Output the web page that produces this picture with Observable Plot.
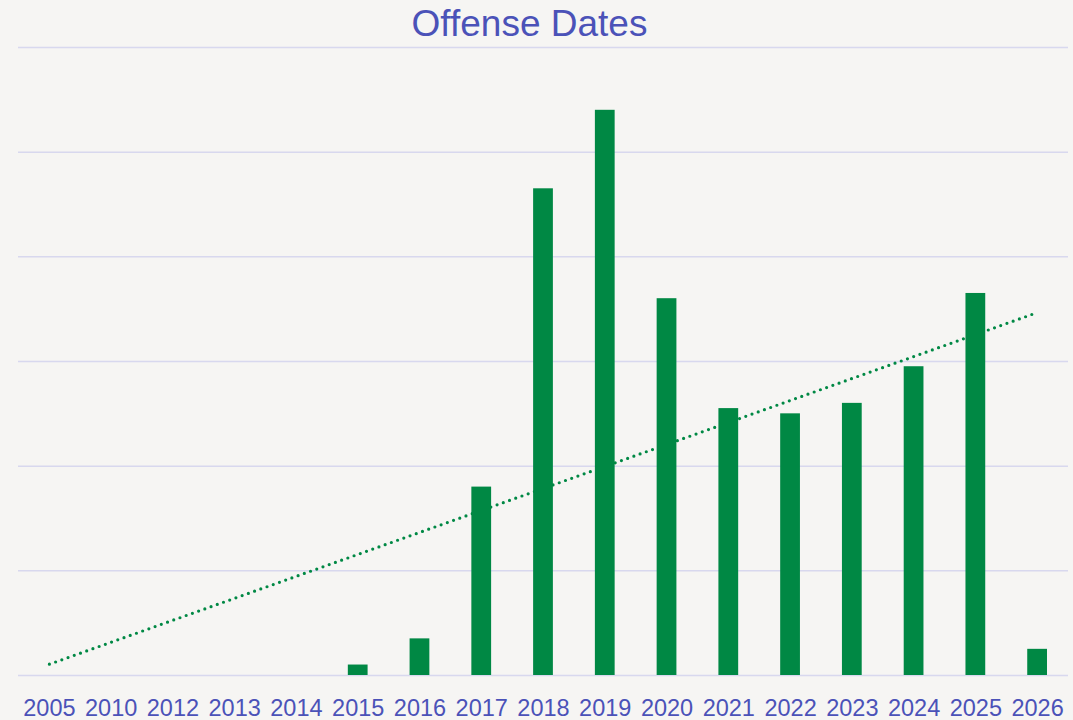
<!DOCTYPE html>
<html>
<head>
<meta charset="utf-8">
<script src="https://cdn.jsdelivr.net/npm/d3@7"></script>
<script src="https://cdn.jsdelivr.net/npm/@observablehq/plot@0.6"></script>
<style>
  html, body { margin: 0; padding: 0; background: #f6f5f3; }
  #wrap { width: 1073px; height: 720px; background: #f6f5f3; overflow: hidden; }
  #title { height: 40px; padding-top: 4px; box-sizing: border-box; line-height: 40px; text-align: center;
    font-family: "Liberation Sans", Arial, sans-serif; font-size: 37px; color: #4b52b8; padding-right: 14px; }
  svg { display: block; }
</style>
</head>
<body>
<div id="wrap">
  <div id="title">Offense Dates</div>
  <div id="chart"></div>
</div>
<script>
const years = ["2005","2010","2012","2013","2014","2015","2016","2017","2018","2019","2020","2021","2022","2023","2024","2025","2026"];
const counts = [0, 0, 0, 0, 0, 2, 7, 36, 93, 108, 72, 51, 50, 52, 59, 73, 5];
const yTicks = [0, 20, 40, 60, 80, 100, 120];

const data = years.map((y, i) => ({year: y, count: counts[i]}));

// linear trendline (least squares over category index)
const xs = counts.map((_, i) => i + 1);
const mx = d3.mean(xs), my = d3.mean(counts);
const slope = d3.sum(xs.map((x, i) => (x - mx) * (counts[i] - my))) / d3.sum(xs.map(x => (x - mx) ** 2));
const icpt = my - slope * mx;
const trend = years.map((y, i) => ({year: y, v: icpt + slope * (i + 1)}));

const chart = Plot.plot({
  width: 1073,
  height: 680,
  marginTop: 7,
  marginBottom: 45,
  marginLeft: 18,
  marginRight: 5,
  style: {background: "#f6f5f3", fontFamily: "'Liberation Sans', Arial, sans-serif", overflow: "visible"},
  x: {domain: years, paddingInner: 0.68, paddingOuter: 0.34, round: false, label: null},
  y: {domain: [0, 120], label: null, axis: null},
  marks: [
    Plot.ruleY(yTicks, {stroke: "#d8d8ee", strokeWidth: 1.5}),
    Plot.line(trend, {x: "year", y: "v", stroke: "#008844", strokeWidth: 3.2,
      strokeDasharray: "0,6.6", strokeLinecap: "round"}),
    Plot.barY(data, {x: "year", y: "count", fill: "#008844"}),
    Plot.axisX({tickSize: 0, tickPadding: 24, fontSize: 23.5, color: "#4b52b8", label: null})
  ]
});
document.getElementById("chart").appendChild(chart);
</script>
</body>
</html>
